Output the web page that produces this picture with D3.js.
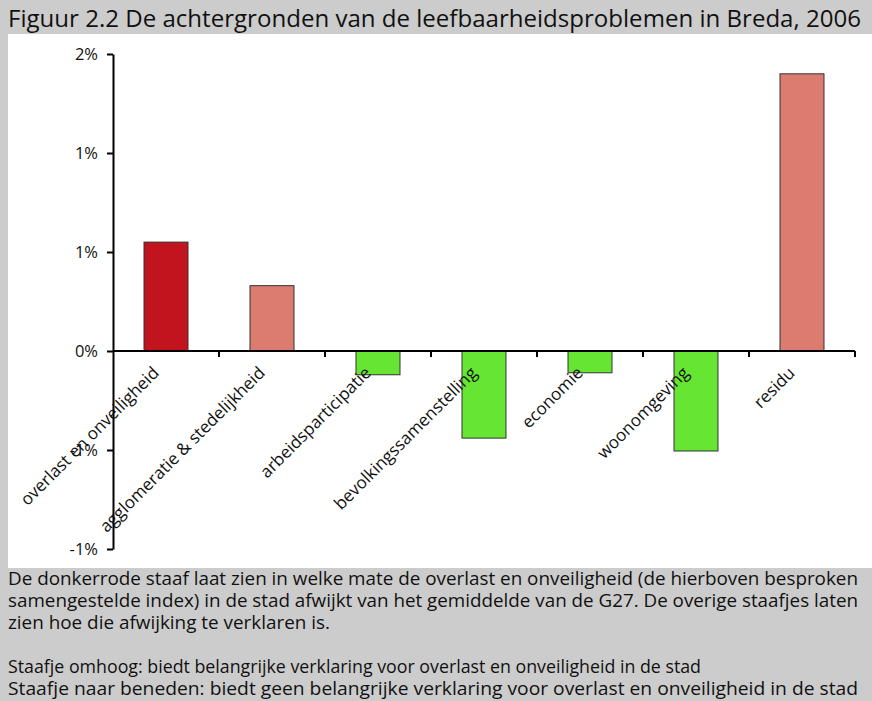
<!DOCTYPE html>
<html><head><meta charset="utf-8">
<script src="https://cdn.jsdelivr.net/npm/d3@7"></script>
<style>body{margin:0;background:#cccccc;} svg{display:block;}</style>
</head><body>
<script>
const categories = ["overlast en onveiligheid","agglomeratie & stedelijkheid","arbeidsparticipatie","bevolkingssamenstelling","economie","woonomgeving","residu"];
const values = [0.55, 0.33, -0.12, -0.44, -0.11, -0.505, 1.40];
const barColors = ["#c1141e","#dc7b70","#66e633","#66e633","#66e633","#66e633","#dc7b70"];
const yTicks = [-1, -0.5, 0, 0.5, 1, 1.5];
const yTickLabels = ["-1%","-1%","0%","1%","1%","2%"];
const title = "Figuur 2.2 De achtergronden van de leefbaarheidsproblemen in Breda, 2006";
const notes = [
 "De donkerrode staaf laat zien in welke mate de overlast en onveiligheid (de hierboven besproken",
 "samengestelde index) in de stad afwijkt van het gemiddelde van de G27. De overige staafjes laten",
 "zien hoe die afwijking te verklaren is.",
 "",
 "Staafje omhoog: biedt belangrijke verklaring voor overlast en onveiligheid in de stad",
 "Staafje naar beneden: biedt geen belangrijke verklaring voor overlast en onveiligheid in de stad"
];
const noteWidths = [850, 850, 322, 0, 693, 850];

const W = 872, H = 701;
const font = "'Open Sans', sans-serif";
const svg = d3.select("body").append("svg").attr("width", W).attr("height", H);
svg.append("rect").attr("width", W).attr("height", H).attr("fill", "#cccccc");
svg.append("rect").attr("x", 8).attr("y", 34).attr("width", W - 8).attr("height", 534).attr("fill", "#ffffff");

svg.append("text").attr("x", 8).attr("y", 27).attr("font-family", font).attr("font-size", 23)
  .attr("textLength", 853).attr("lengthAdjust", "spacingAndGlyphs").attr("fill", "#111").text(title);

const x = d3.scaleBand().domain(categories).range([113, 855]).paddingInner(0).paddingOuter(0);
const y = d3.scaleLinear().domain([-1, 1.5]).range([549, 54]);

const g = svg.append("g");
const bw = x.bandwidth() * 0.415;
g.selectAll("rect.bar").data(values).enter().append("rect").attr("class", "bar")
  .attr("x", (d, i) => x(categories[i]) + x.bandwidth() / 2 - bw / 2)
  .attr("width", bw)
  .attr("y", d => y(Math.max(0, d)))
  .attr("height", d => Math.abs(y(d) - y(0)))
  .attr("fill", (d, i) => barColors[i])
  .attr("stroke", "#333").attr("stroke-width", 1);

// y axis
const yAxis = d3.axisLeft(y).tickValues(yTicks).tickFormat((d, i) => yTickLabels[i]).tickSize(6).tickSizeOuter(0);
const ya = svg.append("g").attr("transform", "translate(113,0)").call(yAxis);
ya.select(".domain").attr("stroke", "#000").attr("stroke-width", 2);
ya.selectAll(".tick line").attr("stroke", "#000").attr("stroke-width", 2);
ya.selectAll(".tick text").attr("font-family", font).attr("font-size", 16.5).attr("fill", "#111").attr("x", -15);

// x axis line at zero with ticks at band boundaries
const xa = svg.append("g").attr("transform", `translate(0,${y(0)})`);
xa.append("line").attr("x1", 113).attr("x2", 855).attr("stroke", "#000").attr("stroke-width", 2);
const bounds = categories.map(c => x(c)).concat([x.range()[1]]);
xa.selectAll("line.tk").data(bounds.slice(1)).enter().append("line").attr("class", "tk")
  .attr("x1", d => d).attr("x2", d => d).attr("y1", 0).attr("y2", 6).attr("stroke", "#000").attr("stroke-width", 2);

// category labels
svg.selectAll("text.cat").data(categories).enter().append("text").attr("class", "cat")
  .attr("transform", d => `translate(${x(d) + x.bandwidth() / 2 - 6},${y(0) + 23}) rotate(-45)`)
  .attr("text-anchor", "end").attr("font-family", font).attr("font-size", 17).attr("fill", "#111").text(d => d);

// notes
notes.forEach((t, i) => {
  if (!t) return;
  svg.append("text").attr("x", 8).attr("y", 585 + i * 22).attr("font-family", font)
    .attr("font-size", 17.5).attr("fill", "#111")
    .attr("textLength", noteWidths[i]).attr("lengthAdjust", "spacingAndGlyphs").text(t);
});
</script>
</body></html>
